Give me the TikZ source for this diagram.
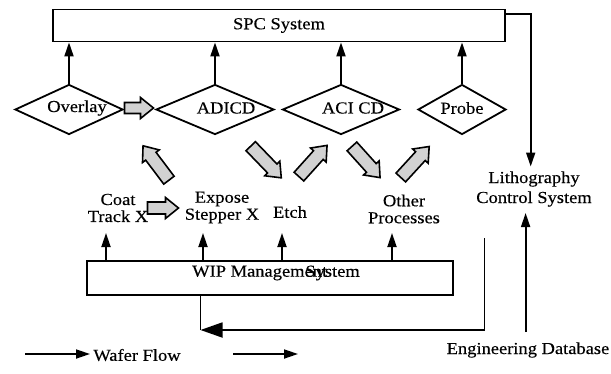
\documentclass[tikz,border=0pt]{standalone}
\usepackage{fontspec}
\setmainfont[FakeStretch=1.1,FakeBold=0.3]{Liberation Serif}
\usetikzlibrary{shapes.geometric,arrows.meta}
\begin{document}
\begin{tikzpicture}[x=1pt,y=-1pt,
  every node/.style={font=\fontsize{16.8}{17}\selectfont, inner sep=0pt},
  sysbox/.style={draw, line width=1.8pt, inner sep=0pt},
  dia/.style={diamond, draw, line width=1.8pt, minimum height=50pt, inner sep=0pt},
  blkstyle/.style={draw, line width=1.6pt, fill=gray!35, line join=miter},
  pics/blkarr/.style args={#1/#2}{code={
    \draw[blkstyle] ({-#1/2},{-#2/2}) -- ({#1/2-13},{-#2/2}) -- ({#1/2-13},-10.5)
      -- ({#1/2},0) -- ({#1/2-13},10.5) -- ({#1/2-13},{#2/2}) -- ({-#1/2},{#2/2}) -- cycle;}},
  conn/.style={line width=1.8pt},
  arr/.style={conn, -{Triangle[length=14pt,width=9pt]}},
  bigarr/.style={conn, -{Triangle[length=22pt,width=15pt]}},
]
\useasboundingbox (0,0) rectangle (611,373);

% systems
\node[sysbox, minimum width=452pt, minimum height=32pt] (spc) at (279,25.5) {SPC System};
\node[sysbox, minimum width=366pt, minimum height=34pt] (wip) at (270,278) {};
\node[anchor=west] (wipa) at (192,273) {WIP Management};
\node[anchor=east] (wipb) at (360,273) {System};

% diamonds
\node[dia, minimum width=108pt] (ov) at (69,109.5) {};
\node[dia, minimum width=118pt] (ad) at (215,109.5) {};
\node[dia, minimum width=117pt] (ac) at (341,109.5) {};
\node[dia, minimum width=88pt] (pr) at (462,109.5) {};
\node (ovt) at (77,108) {Overlay};
\node (adt) at (226,108) {ADICD};
\node (act) at (353,108) {ACI CD};
\node (prt) at (462,108) {Probe};

\foreach \d in {ov,ad,ac,pr}{\draw[arr] (\d.north) -- (\d.north |- spc.south);}

% gray block arrows
\pic at (139,108) {blkarr=29/11};
\pic[rotate=127] at (156,163) {blkarr=43/13};
\pic[rotate=-46] at (266,162) {blkarr=44/13};
\pic[rotate=48] at (313,161) {blkarr=42/13};
\pic[rotate=-48] at (366,162) {blkarr=42/13};
\pic[rotate=47.5] at (415,162) {blkarr=42/13};
\pic at (163,208) {blkarr=31/12};

% process labels
\node[align=center] (coat) at (118,208) {Coat\\Track X};
\node[align=center] (expo) at (222,207.5) {Expose\\Stepper X};
\node (etch) at (290,212) {Etch};
\node[align=center] (oth) at (404,209) {Other\\Processes};
\node[align=center] (litho) at (534,189) {Lithography\\[3pt]Control System};
\node (engdb) at (528,350) {Engineering Database};
\node (wf) at (137,355) {Wafer Flow};

% WIP up arrows
\coordinate (t1) at (106,233);
\coordinate (t2) at (203,233);
\coordinate (t3) at (282,233);
\coordinate (t4) at (392,233);
\foreach \t in {t1,t2,t3,t4}{\draw[arr] (wip.north -| \t) -- (\t);}

% litho control
\coordinate (lt) at (530.7,166.5);
\draw[arr] ([yshift=-5.5pt]spc.north east) -| (lt);
\coordinate (eb) at (525.6,332);
\coordinate (et) at (525.6,213);
\draw[arr] (eb) -- (et);

% return route
\coordinate (rt) at (484.5,238);
\coordinate (corner) at (200.5,330);
\draw[conn] (wip.south -| corner) -- (corner);
\draw[bigarr] (rt) |- (corner);

% legend
\coordinate (w1a) at (25,354);
\coordinate (w1b) at (90,354);
\coordinate (w2a) at (233,354);
\coordinate (w2b) at (298,354);
\draw[arr] (w1a) -- (w1b);
\draw[arr] (w2a) -- (w2b);
\end{tikzpicture}
\end{document}
